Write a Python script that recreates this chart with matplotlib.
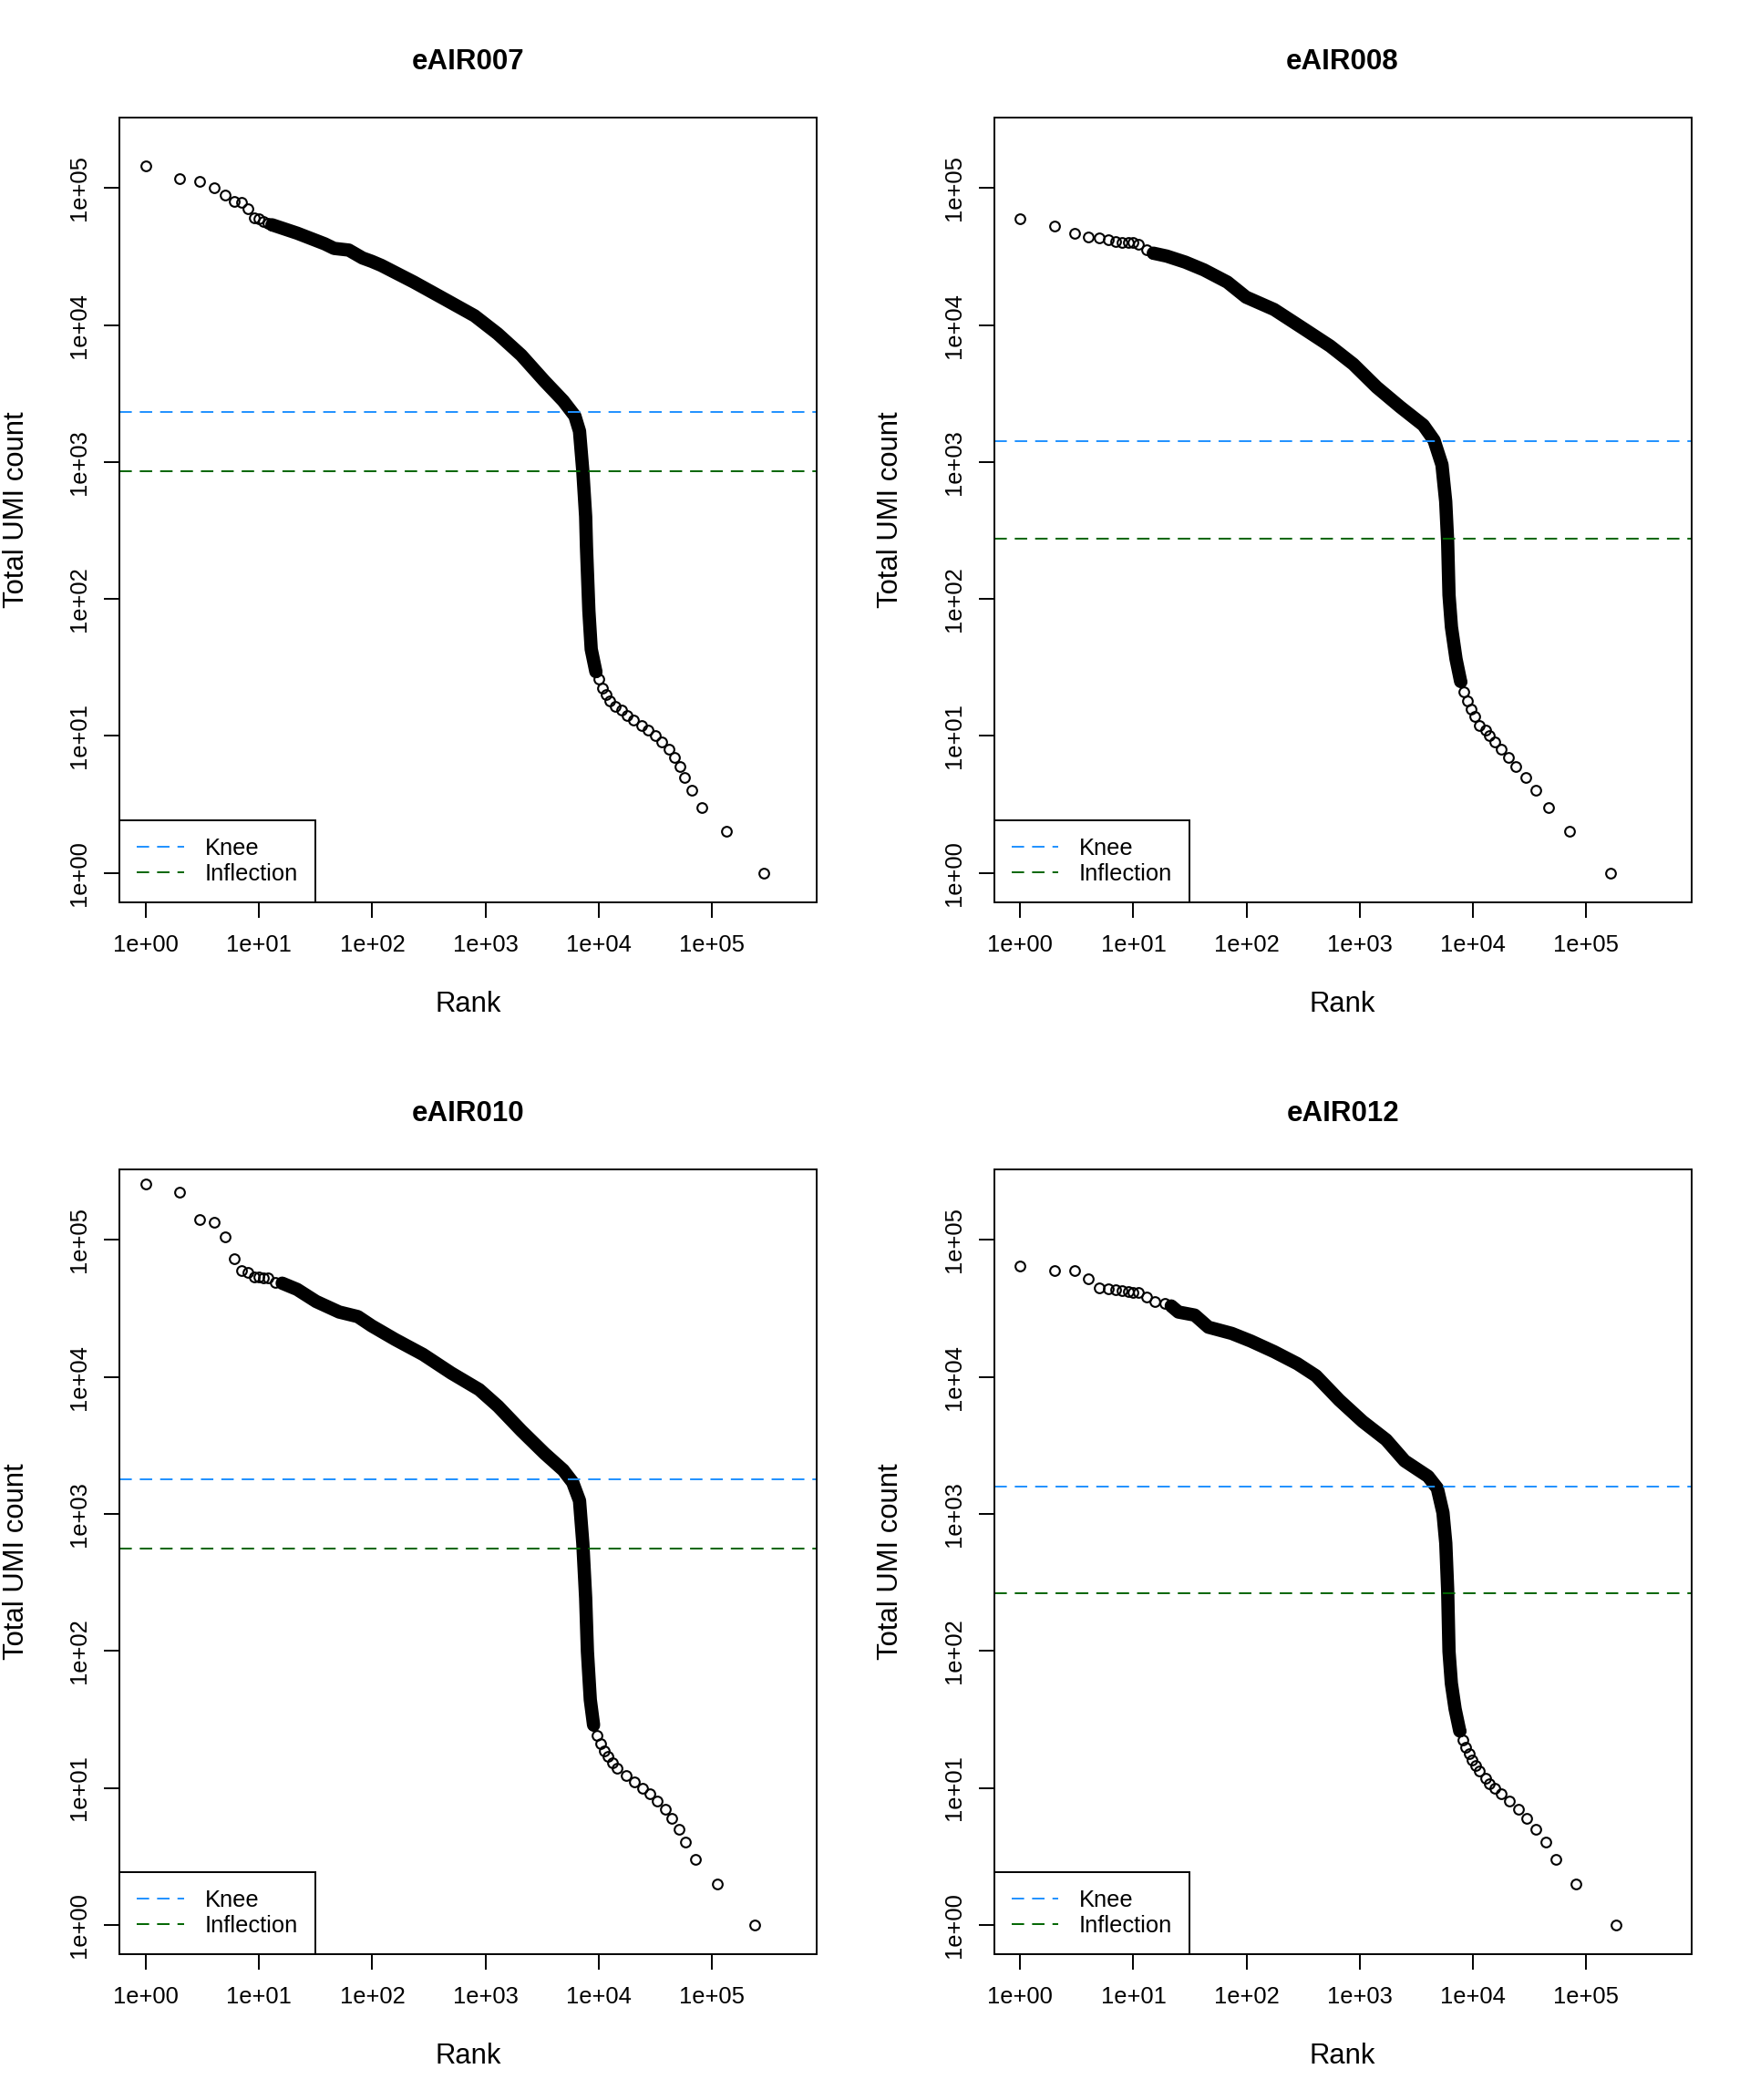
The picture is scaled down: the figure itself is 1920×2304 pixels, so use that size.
import numpy as np
import matplotlib
matplotlib.use("Agg")
import matplotlib.pyplot as plt
from matplotlib.ticker import NullLocator

plt.rcParams['font.family'] = ['Liberation Sans', 'DejaVu Sans']

# barcode rank curves
# head / tail = separate circles, band = dense run of overlapping circles
samples = ["eAIR007", "eAIR008", "eAIR010", "eAIR012"]

e007_head_rank = [1, 2, 3, 4, 5, 6, 7, 8, 9, 10, 11, 12, 13]
e007_head_umi = [146000, 118000, 112000, 100000, 89000, 79500, 79000, 71000, 60500, 60000, 57000, 55500, 54000]
e007_band_rank = [13, 21.7, 38, 46, 62, 82, 99, 120, 233, 453, 800, 1280, 2070, 3320, 4860,
                  6160, 6770, 7240, 7670, 7800, 8190, 8590, 9440]
e007_band_umi = [54000, 46900, 39200, 36300, 35300, 30900, 29200, 27300, 20600, 15200, 11700, 8650,
                 6030, 3900, 2800, 2170, 1680, 860, 400, 240, 82, 43, 29.5]
e007_tail_rank = [9440, 10000, 10900, 11700, 12560, 14000, 15900, 17800, 20200, 24000, 27400, 31800,
                  36300, 41600, 46600, 52500, 57400, 66800, 81500, 135000, 288000]
e007_tail_umi = [29.5, 26, 22.5, 20, 18.1, 16.5, 15.4, 14.2, 13.1, 12, 11, 10, 9, 8, 7, 6, 5, 4, 3, 2, 1]

e008_head_rank = [1, 2, 3, 4, 5, 6, 7, 8, 9, 10, 11, 13, 15]
e008_head_umi = [60000, 53200, 46900, 44000, 43500, 42300, 40600, 40100, 40100, 40000, 39200, 35300, 33500]
e008_band_rank = [15, 19.7, 28.8, 42, 67.6, 98.9, 175, 309, 546, 877, 1410, 2270, 3640, 4530,
                  5320, 5740, 5970, 6140, 6450, 7080, 7780]
e008_band_umi = [33500, 31900, 28800, 25300, 20600, 16000, 13000, 9580, 7040, 5180, 3520, 2530,
                 1860, 1440, 955, 516, 265, 107, 62.5, 36.5, 25]
e008_tail_rank = [7780, 8300, 8980, 9600, 10350, 11400, 12900, 14000, 15700, 17600, 20500, 23900,
                  29100, 35900, 46400, 71100, 164000]
e008_tail_umi = [25, 21, 18, 15.8, 13.8, 12, 11, 10, 9, 8, 7, 6, 5, 4, 3, 2, 1]

e010_head_rank = [1, 2, 3, 4, 5, 6, 7, 8, 9, 10, 11, 12, 14, 16]
e010_head_umi = [258000, 223000, 142000, 134000, 106000, 72800, 59700, 57800, 53500, 53400, 53300,
                 52800, 49100, 48400]
e010_band_rank = [16, 21.7, 31.9, 51, 74.5, 99, 159, 281, 497, 880, 1290, 2070, 3320, 4860, 5890,
                  6770, 7240, 7670, 7950, 8430, 9010]
e010_band_umi = [48400, 43600, 35600, 29800, 27600, 23600, 18800, 14600, 10700, 8090, 6110, 4060,
                 2770, 2090, 1700, 1250, 612, 244, 99, 44, 28.8]
e010_tail_rank = [9010, 9600, 10400, 11200, 12000, 13200, 14500, 17500, 20800, 24400, 28100, 33100,
                  38500, 44400, 51200, 58500, 71400, 111000, 238000]
e010_tail_umi = [28.8, 24, 21, 18.7, 16.9, 15.3, 14, 12.3, 11.1, 10, 9, 8, 7, 6, 5, 4, 3, 2, 1]

e012_head_rank = [1, 2, 3, 4, 5, 6, 7, 8, 9, 10, 11, 13, 15.5, 18.8, 21.6]
e012_head_umi = [64700, 60200, 60100, 52200, 44400, 44300, 43700, 43000, 42200, 41700, 41600,
                 38400, 35600, 34400, 33000]
e012_band_rank = [21.6, 25, 34.8, 46, 74, 109, 175, 281, 410, 660, 1060, 1710, 2490, 4010, 4840,
                  5430, 5750, 5970, 6140, 6440, 6950, 7640]
e012_band_umi = [33000, 29800, 28300, 23100, 20800, 18300, 15300, 12500, 10200, 6770, 4730, 3480,
                 2440, 1880, 1540, 1020, 612, 284, 99, 58, 37.7, 26]
e012_tail_rank = [7640, 8100, 8560, 9200, 9870, 10600, 11380, 12880, 14000, 15600, 17600, 21100,
                  25000, 29700, 36200, 44200, 54400, 81200, 182000]
e012_tail_umi = [26, 22.5, 19.9, 17.8, 16, 14.5, 13.3, 11.7, 10.8, 10, 9, 8, 7, 6, 5, 4, 3, 2, 1]

knee = [2320, 1420, 1800, 1585]
inflection = [861, 275, 561, 265]

tick_vals = [1, 10, 100, 1000, 10000, 100000]
tick_labels = ["1e+00", "1e+01", "1e+02", "1e+03", "1e+04", "1e+05"]

curves = [
    (e007_head_rank, e007_head_umi, e007_band_rank, e007_band_umi, e007_tail_rank, e007_tail_umi),
    (e008_head_rank, e008_head_umi, e008_band_rank, e008_band_umi, e008_tail_rank, e008_tail_umi),
    (e010_head_rank, e010_head_umi, e010_band_rank, e010_band_umi, e010_tail_rank, e010_tail_umi),
    (e012_head_rank, e012_head_umi, e012_band_rank, e012_band_umi, e012_tail_rank, e012_tail_umi),
]

knee_col = "#1E90FF"
infl_col = "#006400"

fig = plt.figure(figsize=(19.2, 23.04), dpi=100)
lefts = [0.0684, 0.568]
bottoms = [0.5703, 0.0694]
w, h = 0.3985, 0.3737

for i, name in enumerate(samples):
    ax = fig.add_axes([lefts[i % 2], bottoms[i // 2], w, h])
    hr, hu, br, bu, tr, tu = curves[i]

    ax.plot(br, bu, color="black", lw=10.5, solid_capstyle="round", solid_joinstyle="round")
    ax.plot(hr, hu, "o", mfc="none", mec="black", ms=7.7, mew=1.5)
    ax.plot(tr, tu, "o", mfc="none", mec="black", ms=7.7, mew=1.5)

    ax.axhline(knee[i], color=knee_col, lw=1.4, dashes=(7, 4.5), label="Knee")
    ax.axhline(inflection[i], color=infl_col, lw=1.4, dashes=(7, 4.5), label="Inflection")

    ax.set_xscale("log")
    ax.set_yscale("log")
    ax.set_xlim(10 ** -0.231, 10 ** 5.929)
    ax.set_ylim(10 ** -0.215, 10 ** 5.515)
    ax.set_xticks(tick_vals)
    ax.set_xticklabels(tick_labels)
    ax.set_yticks(tick_vals)
    ax.set_yticklabels(tick_labels, rotation=90, va="center")
    ax.xaxis.set_minor_locator(NullLocator())
    ax.yaxis.set_minor_locator(NullLocator())
    ax.tick_params(axis="both", which="major", length=12, width=1.4, labelsize=18.4, direction="out")
    ax.tick_params(axis="x", pad=13)
    ax.tick_params(axis="y", pad=11)
    for sp in ax.spines.values():
        sp.set_linewidth(1.4)

    ax.set_title(name, fontsize=22.5, fontweight="bold", pad=38)
    ax.text(0.5, -0.13, "Rank", fontsize=22.3, ha="center", va="center",
            transform=ax.transAxes)
    ax.text(-0.148, 0.5, "Total UMI count", fontsize=22.3, ha="center", va="center",
            rotation=90, transform=ax.transAxes)

    leg = ax.legend(loc="lower left", borderaxespad=0, fontsize=18.4, fancybox=False,
                    edgecolor="black", framealpha=1, handlelength=2.0, handletextpad=0.9,
                    borderpad=0.75, labelspacing=0.15)
    leg.get_frame().set_linewidth(1.4)

fig.savefig("out.png", dpi=100)
